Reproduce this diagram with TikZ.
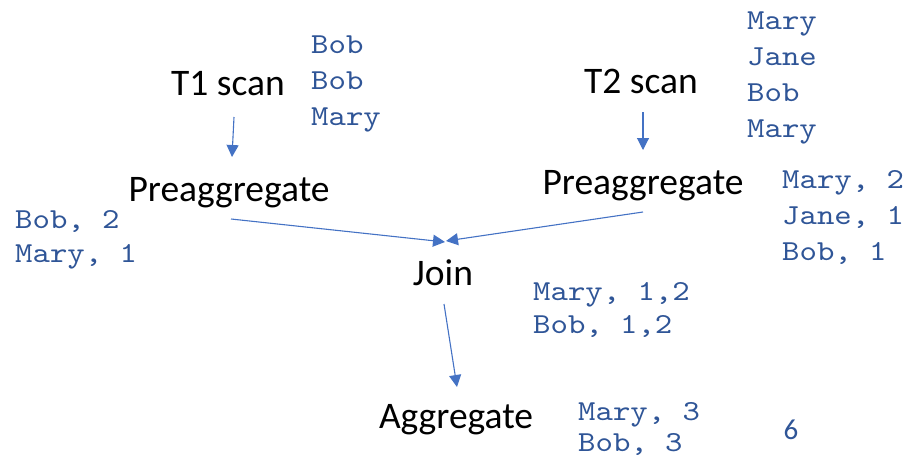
\documentclass[tikz,border=0pt]{standalone}
\usepackage{fontspec}
\setmainfont{Carlito}
% typewriter face for the row listings, widened to a 0.6em pitch
\newfontfamily\codefont[FakeStretch=1.143]{lmmono10-regular.otf}
\usetikzlibrary{arrows.meta}
\definecolor{flowblue}{HTML}{4472C4}
\definecolor{rowblue}{HTML}{2F5597}
\tikzset{
  op/.style={anchor=base, inner sep=0pt, font=\fontsize{37.5}{45}\selectfont, text=black},
  % multi-line row lists: anchored at the baseline of their last line
  rows/.style={anchor=base west, inner sep=0pt, align=left, text=rowblue,
    font=\codefont\fontsize{29}{#1}\selectfont},
  rows/.default=35.5,
  flow/.style={draw=flowblue, line width=1.1pt, -{Triangle[length=12pt,width=12pt]}}
}
\begin{document}
\begin{tikzpicture}[x=1pt,y=-1pt]
\useasboundingbox (0,0) rectangle (905,458);
% operators
\node[op] (t1)   at (228,95)  {T1 scan};
\node[op] (t2)   at (641,93)  {T2 scan};
\node[op] (pre1) at (229,201) {Preaggregate};
\node[op] (pre2) at (643,194) {Preaggregate};
\node[op] (join) at (443,285) {Join};
\node[op] (agg)  at (456,428) {Aggregate};
% intermediate rows
\node[rows=36]   (r1) at (311,125) {Bob\\Bob\\Mary};
\node[rows=35.7] (r2) at (747,137) {Mary\\Jane\\Bob\\Mary};
\node[rows=34]   (p1) at (15,262)  {Bob, 2\\Mary, 1};
\node[rows=36]   (p2) at (782,260) {Mary, 2\\Jane, 1\\Bob, 1};
\node[rows=33]   (j1) at (533,333) {Mary, 1,2\\Bob, 1,2};
\node[rows=31]   (a1) at (578,451) {Mary, 3\\Bob, 3};
\node[anchor=base, inner sep=0pt, text=rowblue, font=\fontsize{29}{34}\selectfont] (total) at (791,439) {6};
% data flow
\draw[flow] ([shift={(6,22)}]t1.base)   -- ([shift={(3,-44)}]pre1.base);
\draw[flow] ([shift={(2,19)}]t2.base)   -- ([shift={(0,-44)}]pre2.base);
\draw[flow] ([shift={(2,18)}]pre1.base) -- ([shift={(2,-43)}]join.base);
\draw[flow] ([shift={(0,18)}]pre2.base) -- ([shift={(3,-44)}]join.base);
\draw[flow] ([shift={(1,19)}]join.base) -- ([shift={(1,-41)}]agg.base);
\end{tikzpicture}
\end{document}
